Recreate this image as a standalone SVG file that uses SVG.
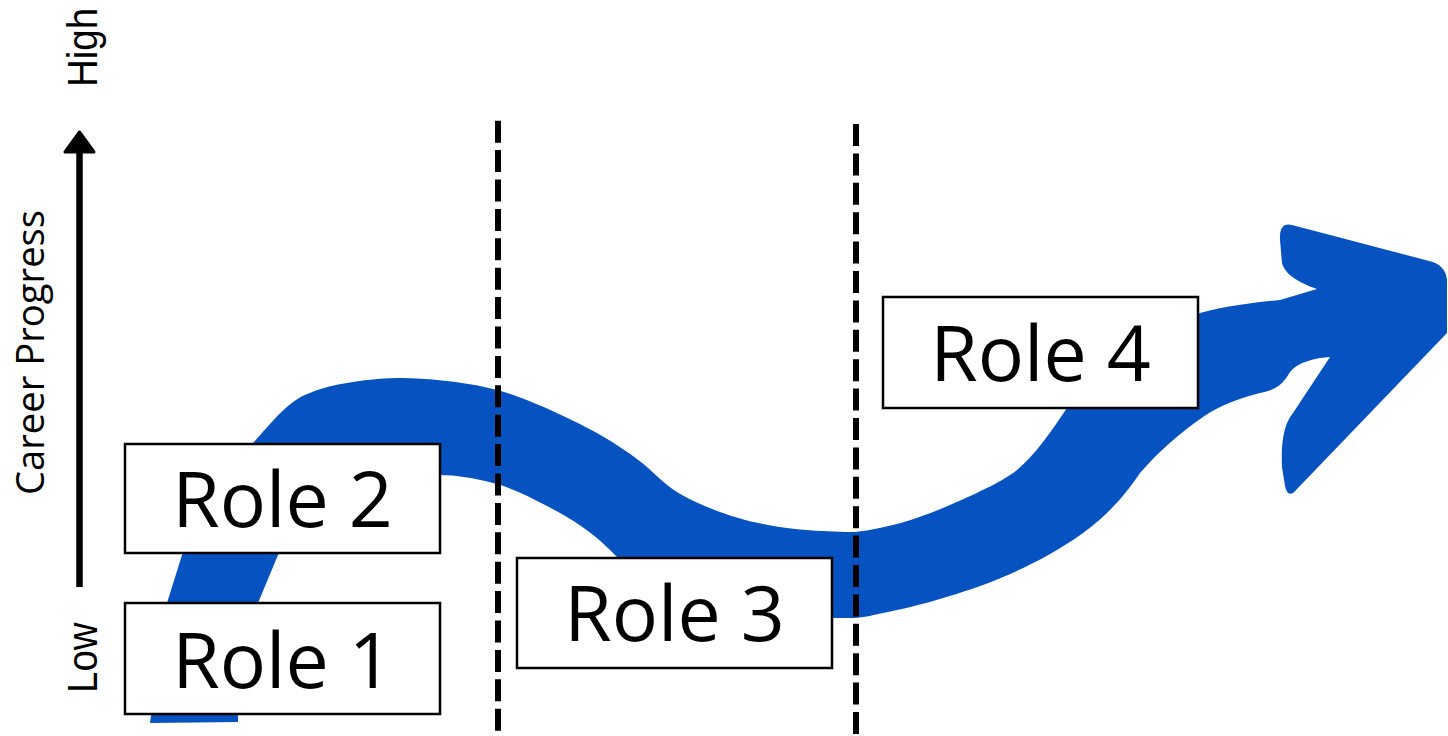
<svg xmlns="http://www.w3.org/2000/svg" width="1448" height="736" viewBox="0 0 1448 736">
  <style>
    .box { fill: #ffffff; stroke: #000000; stroke-width: 2.5; }
    .role { font-family: "Open Sans", "Liberation Sans", sans-serif; font-size: 77px; fill: #000000; text-anchor: middle; }
    .axis-lbl { font-family: "Liberation Sans", Arial, sans-serif; font-size: 38.5px; fill: #000000; }
    .axis-title { font-family: "Open Sans", "Liberation Sans", sans-serif; font-size: 38.5px; fill: #000000; }
    .divider { stroke: #000000; stroke-width: 6; stroke-dasharray: 22 7.4; fill: none; }
    .blue { fill: #0652c0; }
  </style>
  <rect width="1448" height="736" fill="#ffffff"/>

  <g id="career-path">
    <path class="blue" d="M150,723 L167,603 L182,555
      C200,505 225,470 253,443
      C270,425 288,400 310,393
      C330,384 370,378 403,378
      C440,379 470,383 497,390
      C520,396 560,413 597,433
      C618,445 634,456 647,467
      C660,479 668,487 682,495
      C705,508 740,520 763,524
      C790,530 830,532 855,532
      C890,528 920,518 950,505
      C980,492 1005,480 1017,470
      C1035,455 1050,433 1067,408
      C1090,370 1150,325 1200,313
      C1230,305 1260,302 1280,300
      L1317,289
      C1300,283 1285,275 1282,263
      L1280,240
      Q1279,222 1292,225
      L1433,262
      Q1448,268 1447,284
      L1447,333
      L1297,489
      Q1288,500 1285,486
      L1282,467
      C1281,445 1283,425 1293,413
      L1330,357
      C1315,358 1298,362 1290,372
      C1284,382 1278,390 1260,393
      C1240,398 1220,405 1203,417
      C1180,433 1160,450 1140,473
      C1125,495 1110,513 1083,533
      C1050,557 1010,575 983,585
      C950,597 910,608 883,613
      C870,616 860,618 850,618
      L832,618
      C760,618 680,600 640,580
      L610,550
      C590,530 570,518 547,506
      C530,497 510,487 493,483
      C475,478 455,475 440,475
      C380,475 320,500 278,555
      L258,603 L238,715 L238,722 Z"/>
  </g>

  <g id="node-role1">
    <rect class="box" x="125" y="603" width="315" height="111"/>
    <text class="role" x="282.5" y="687.5">Role 1</text>
  </g>
  <g id="node-role2">
    <rect class="box" x="125" y="444" width="315" height="109"/>
    <text class="role" x="282.5" y="527">Role 2</text>
  </g>
  <g id="node-role3">
    <rect class="box" x="517" y="558" width="315" height="110"/>
    <text class="role" x="674.5" y="641">Role 3</text>
  </g>
  <g id="node-role4">
    <rect class="box" x="883" y="297" width="315" height="111"/>
    <text class="role" x="1040.5" y="380.5">Role 4</text>
  </g>

  <g id="dividers">
    <line class="divider" x1="498" y1="120.7" x2="498" y2="736"/>
    <line class="divider" x1="856" y1="124" x2="856" y2="736"/>
  </g>

  <g id="connectors">
    <line x1="79.5" y1="150" x2="79.5" y2="587" stroke="#000000" stroke-width="6.5"/>
    <polygon points="79.5,132 94,152 65,152" fill="#000000" stroke="#000000" stroke-width="3" stroke-linejoin="round"/>
  </g>

  <g id="axis-labels">
    <text class="axis-lbl" transform="translate(97,87) rotate(-90) scale(1,1.12)">High</text>
    <text class="axis-title" transform="translate(44,495) rotate(-90)" textLength="285" lengthAdjust="spacingAndGlyphs">Career Progress</text>
    <text class="axis-lbl" transform="translate(97,693) rotate(-90) scale(1,1.12)">Low</text>
  </g>
</svg>
